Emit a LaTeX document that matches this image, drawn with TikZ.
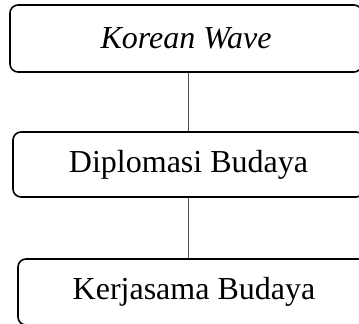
\documentclass[tikz,border=0pt]{standalone}
\usepackage{fontspec}
\setmainfont{Liberation Serif}
\begin{document}
\begin{tikzpicture}[x=1pt,y=-1pt,
  box/.style={draw=black, line width=1.6pt, rounded corners=8pt, inner sep=0pt, font=\fontsize{32}{36}\selectfont},
  link/.style={draw=black!70, line width=0.9pt}]
\clip (0,0) rectangle (359,324);
\fill[white] (0,0) rectangle (359,324);
\node[box, minimum width=352pt, minimum height=67pt] (b1) at (186,38.5) {\textit{Korean Wave}};
\node[box, minimum width=351pt, minimum height=65pt] (b2) at (188.5,164.5) {Diplomasi Budaya};
\node[box, minimum width=352pt, minimum height=66pt] (b3) at (194,292) {Kerjasama Budaya};
\coordinate (cx) at (188,0);
\draw[link] (b1.south -| cx) -- (b2.north -| cx);
\draw[link] (b2.south -| cx) -- (b3.north -| cx);
\end{tikzpicture}
\end{document}
